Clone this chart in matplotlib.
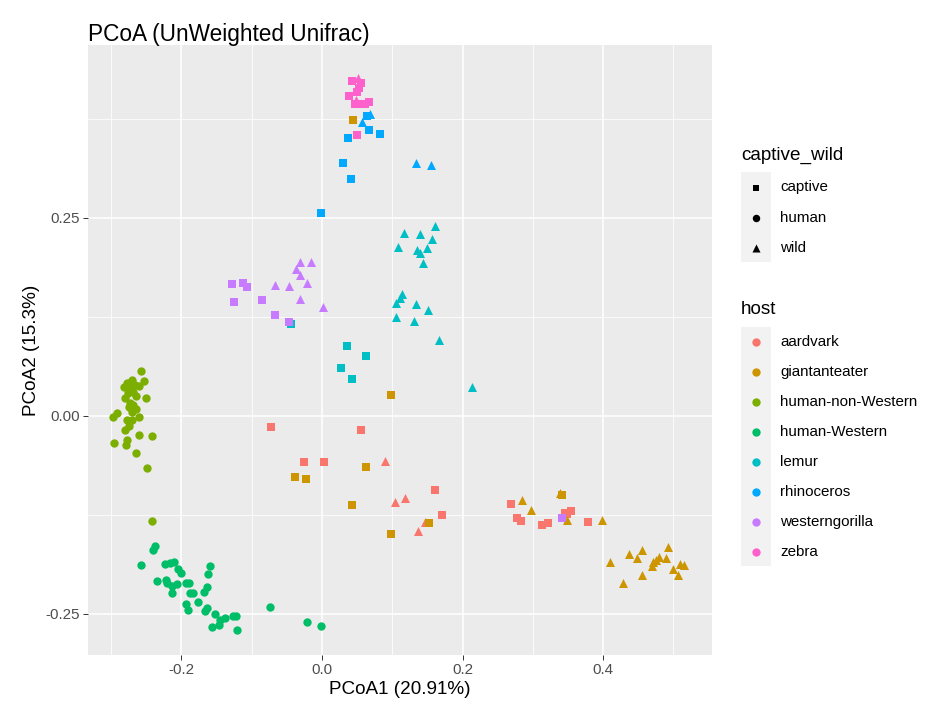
import numpy as np
import matplotlib
matplotlib.use("Agg")
import matplotlib.pyplot as plt
from matplotlib.patches import Rectangle

plt.rcParams['font.family'] = ['Liberation Sans', 'DejaVu Sans']

# 数据 (x, y) — captive / wild / human
aardvark_captive = [(-0.072, -0.014), (0.055, -0.018), (-0.025, -0.058), (0.003, -0.058),
                    (0.161, -0.094), (0.171, -0.125), (0.269, -0.112), (0.277, -0.129),
                    (0.283, -0.133), (0.313, -0.138), (0.321, -0.135), (0.346, -0.123),
                    (0.354, -0.120), (0.349, -0.124), (0.379, -0.134)]
aardvark_wild = [(0.089, -0.057), (0.104, -0.109), (0.118, -0.104), (0.147, -0.134), (0.136, -0.145)]

giantanteater_captive = [(0.044, 0.373), (0.098, 0.026), (0.063, -0.065), (-0.023, -0.080),
                         (-0.039, -0.077), (0.042, -0.113), (0.152, -0.136), (0.098, -0.149),
                         (0.341, -0.100)]
giantanteater_wild = [(0.339, -0.098), (0.285, -0.106), (0.297, -0.119), (0.348, -0.132),
                      (0.398, -0.131), (0.410, -0.184), (0.437, -0.174), (0.456, -0.169),
                      (0.448, -0.180), (0.493, -0.166), (0.480, -0.178), (0.489, -0.179),
                      (0.471, -0.185), (0.469, -0.190), (0.476, -0.182), (0.499, -0.193),
                      (0.509, -0.187), (0.515, -0.189), (0.506, -0.201), (0.456, -0.201),
                      (0.429, -0.211)]

human_nonwestern = [(-0.258, 0.056), (-0.254, 0.044), (-0.271, 0.045), (-0.278, 0.041),
                    (-0.274, 0.038), (-0.282, 0.036), (-0.266, 0.039), (-0.261, 0.038),
                    (-0.272, 0.032), (-0.276, 0.029), (-0.265, 0.025), (-0.250, 0.023),
                    (-0.273, 0.016), (-0.269, 0.013), (-0.274, 0.011), (-0.264, 0.008),
                    (-0.271, 0.005), (-0.260, -0.002), (-0.292, 0.003), (-0.297, -0.001),
                    (-0.278, -0.005), (-0.271, -0.005), (-0.274, -0.013), (-0.280, -0.018),
                    (-0.260, -0.024), (-0.242, -0.025), (-0.277, -0.031), (-0.279, -0.037),
                    (-0.296, -0.035), (-0.265, -0.047), (-0.249, -0.066), (-0.242, -0.133),
                    (-0.269, 0.030), (-0.280, 0.022)]

human_western = [(-0.238, -0.164), (-0.241, -0.170), (-0.257, -0.189), (-0.223, -0.187),
                 (-0.217, -0.186), (-0.210, -0.184), (-0.205, -0.194), (-0.201, -0.198),
                 (-0.159, -0.190), (-0.162, -0.200), (-0.235, -0.209), (-0.222, -0.207),
                 (-0.220, -0.211), (-0.213, -0.215), (-0.207, -0.212), (-0.194, -0.211),
                 (-0.189, -0.211), (-0.214, -0.224), (-0.163, -0.216), (-0.168, -0.223),
                 (-0.188, -0.224), (-0.184, -0.224), (-0.193, -0.237), (-0.177, -0.235),
                 (-0.190, -0.245), (-0.167, -0.246), (-0.163, -0.243), (-0.152, -0.250),
                 (-0.145, -0.258), (-0.138, -0.255), (-0.146, -0.264), (-0.157, -0.267),
                 (-0.126, -0.253), (-0.123, -0.253), (-0.121, -0.270), (-0.074, -0.242),
                 (-0.022, -0.260), (-0.001, -0.265)]

lemur_captive = [(0.035, 0.088), (0.062, 0.076), (0.027, 0.060), (0.043, 0.047), (-0.044, 0.116)]
lemur_wild = [(0.161, 0.240), (0.117, 0.231), (0.140, 0.229), (0.157, 0.223), (0.108, 0.213),
              (0.149, 0.212), (0.135, 0.209), (0.139, 0.205), (0.144, 0.193), (0.114, 0.154),
              (0.111, 0.149), (0.105, 0.142), (0.134, 0.141), (0.151, 0.133), (0.105, 0.125),
              (0.131, 0.119), (0.166, 0.096), (0.214, 0.036)]

rhinoceros_captive = [(0.064, 0.378), (0.067, 0.361), (0.083, 0.356), (0.037, 0.351),
                      (0.030, 0.319), (0.041, 0.299), (-0.001, 0.256)]
rhinoceros_wild = [(0.068, 0.381), (0.057, 0.371), (0.134, 0.319), (0.155, 0.317)]

westerngorilla_captive = [(-0.128, 0.166), (-0.112, 0.168), (-0.107, 0.162), (-0.125, 0.144),
                          (-0.086, 0.146), (-0.067, 0.127), (-0.047, 0.118), (0.342, -0.129)]
westerngorilla_wild = [(-0.032, 0.194), (-0.015, 0.194), (-0.037, 0.185), (-0.031, 0.178),
                       (-0.067, 0.165), (-0.047, 0.164), (-0.022, 0.168), (-0.031, 0.148),
                       (0.001, 0.137)]

zebra_captive = [(0.043, 0.423), (0.055, 0.420), (0.053, 0.414), (0.050, 0.409), (0.038, 0.404),
                 (0.047, 0.393), (0.057, 0.394), (0.067, 0.396), (0.061, 0.394), (0.050, 0.355)]
zebra_wild = [(0.051, 0.426), (0.048, 0.398)]

hosts = ['aardvark', 'giantanteater', 'human-non-Western', 'human-Western',
         'lemur', 'rhinoceros', 'westerngorilla', 'zebra']
colors = ['#F8766D', '#CD9600', '#7CAE00', '#00BE67', '#00BFC4', '#00A9FF', '#C77CFF', '#FF61CC']
cw_levels = ['captive', 'human', 'wild']
markers = {'captive': 's', 'human': 'o', 'wild': '^'}
msize = {'captive': 30, 'human': 36, 'wild': 42}

groups = [
    ('aardvark', 'captive', aardvark_captive), ('aardvark', 'wild', aardvark_wild),
    ('giantanteater', 'captive', giantanteater_captive), ('giantanteater', 'wild', giantanteater_wild),
    ('human-non-Western', 'human', human_nonwestern), ('human-Western', 'human', human_western),
    ('lemur', 'captive', lemur_captive), ('lemur', 'wild', lemur_wild),
    ('rhinoceros', 'captive', rhinoceros_captive), ('rhinoceros', 'wild', rhinoceros_wild),
    ('westerngorilla', 'captive', westerngorilla_captive), ('westerngorilla', 'wild', westerngorilla_wild),
    ('zebra', 'captive', zebra_captive), ('zebra', 'wild', zebra_wild),
]

W, H = 926, 708
fig = plt.figure(figsize=(W / 100, H / 100), dpi=100)
ax = fig.add_axes([88 / W, 1 - 655 / H, (712 - 88) / W, (655 - 45) / H])
ax.set_facecolor('#EBEBEB')
for s in ax.spines.values():
    s.set_visible(False)

for host, cw, pts in groups:
    arr = np.array(pts)
    ax.scatter(arr[:, 0], arr[:, 1], c=colors[hosts.index(host)], marker=markers[cw],
               s=msize[cw], linewidths=0, zorder=3)

ax.set_xlim(-0.333, 0.555)
ax.set_ylim(-0.302, 0.468)
ax.set_xticks([-0.2, 0.0, 0.2, 0.4])
ax.set_xticklabels(['-0.2', '0.0', '0.2', '0.4'])
ax.set_yticks([-0.25, 0.0, 0.25])
ax.set_yticklabels(['-0.25', '0.00', '0.25'])
ax.set_xticks([-0.3, -0.1, 0.1, 0.3, 0.5], minor=True)
ax.set_yticks([-0.125, 0.125, 0.375], minor=True)
ax.grid(which='major', color='white', linewidth=1.1, zorder=0)
ax.grid(which='minor', color='white', linewidth=0.55, zorder=0)
ax.set_axisbelow(True)
ax.tick_params(which='major', length=3.5, width=0.7, color='#333333',
               labelsize=10.9, labelcolor='#4D4D4D', pad=2.5)
ax.tick_params(which='minor', length=0)

ax.set_xlabel('PCoA1 (20.91%)', fontsize=13.6, labelpad=3)
ax.set_ylabel('PCoA2 (15.3%)', fontsize=13.6, labelpad=4)
fig.text(88 / W, 1 - 41 / H, 'PCoA (UnWeighted Unifrac)', fontsize=16.3, va='baseline', ha='left')

# 图例
lg = fig.add_axes([0, 0, 1, 1], facecolor='none')
lg.set_xlim(0, W)
lg.set_ylim(H, 0)
lg.axis('off')

lg.text(741, 155, 'captive_wild', fontsize=13.6, va='center', ha='left')
lg.add_patch(Rectangle((741, 172), 30, 90, facecolor='#F2F2F2', edgecolor='none'))
for i, lev in enumerate(cw_levels):
    yy = 187.5 + 30 * i
    lg.scatter([756], [yy], marker=markers[lev], c='black', s=msize[lev] * 0.8, linewidths=0)
    lg.text(780, yy, lev, fontsize=10.9, va='center', ha='left')

lg.text(741, 310, 'host', fontsize=13.6, va='center', ha='left')
lg.add_patch(Rectangle((741, 327), 30, 239, facecolor='#F2F2F2', edgecolor='none'))
for i, h in enumerate(hosts):
    yy = 341.7 + 30 * i
    lg.scatter([756], [yy], marker='o', c=colors[i], s=36, linewidths=0)
    lg.text(780, yy, h, fontsize=10.9, va='center', ha='left')

fig.savefig('out.png', dpi=100)
